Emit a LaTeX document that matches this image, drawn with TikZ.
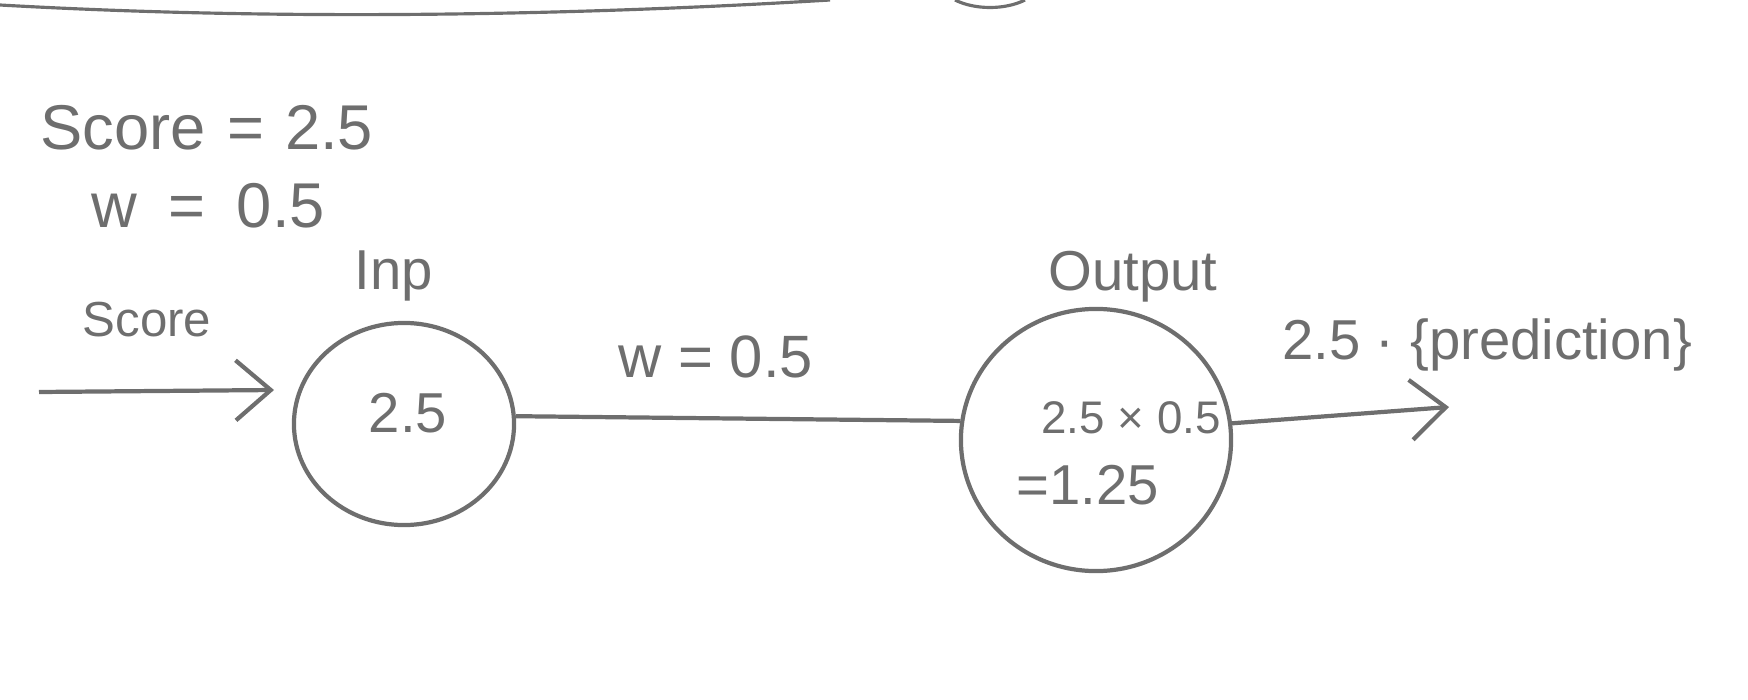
\documentclass[tikz,border=0pt]{standalone}
\usepackage{fontspec}
\setmainfont{Liberation Sans}
\usetikzlibrary{positioning,arrows.meta,shapes.geometric}

\definecolor{pencil}{HTML}{6E6E6E}

\begin{document}
\begin{tikzpicture}[
  x=0.01cm, y=-0.01cm,
  node distance = 2mm and 4mm,
  pen/.style    = {draw=pencil, line width=1.2pt},
  neuron/.style = {pen, ellipse, inner sep=0pt},
  txt/.style    = {text=pencil, inner sep=1pt, font=\fontsize{16}{18}\selectfont},
  big/.style    = {txt, font=\fontsize{18}{20}\selectfont},
  small/.style  = {txt, font=\fontsize{13}{15}\selectfont},
  arr/.style    = {pen, -{Straight Barb[length=3.5mm,width=6mm]}},
]
\useasboundingbox (0,0) rectangle (1748,700);

% ---- page edge strokes ----
\draw[pen, line width=0.9pt] (0,5) .. controls (300,22) and (600,14) .. (830,0);
\draw[pen, line width=0.9pt] (955,0) .. controls (975,10) and (1005,10) .. (1025,0);

% ---- givens ----
\node[big] (given)  at (207,128) {Score\,\,=\,\,2.5};
\node[big] (weight) at (208,206) {w\,\,\,=\,\,\,0.5};

% ---- neurons ----
\node[neuron, minimum width=2.2cm, minimum height=2.02cm] (inp) at (404,424) {};
\node[txt] (inpval) at (408,413) {2.5};
\node[txt, above=1.5mm of inp, xshift=-1mm] (inplbl) {Inp};

\node[neuron, minimum width=2.7cm, minimum height=2.62cm] (out) at (1096,440) {};
\node[small] (prod) at (1131,418) {2.5 × 0.5};
\node[txt]   (res)  at (1088,485) {=1.25};
\node[txt, above=0mm of out, xshift=3.7mm] (outlbl) {Output};

% ---- connectors ----
\coordinate (src)  at (39,392);
\coordinate (hit)  at (274,390);
\coordinate (pred) at (1449,407);

\draw[arr] (src) -- (hit);
\node[txt, font=\fontsize{14}{16}\selectfont] (scorelbl) at (147,320) {Score};

\draw[pen] (inp.4) -- node[txt, font=\fontsize{17}{19}\selectfont, pos=0.45, above=3.5mm] (wlbl) {w = 0.5} (out.172);

\draw[arr] (out.7) -- (pred);
\node[txt, font=\fontsize{16}{18}\selectfont] (predlbl) at (1487,345) {2.5 · \{prediction\}};

\end{tikzpicture}
\end{document}
